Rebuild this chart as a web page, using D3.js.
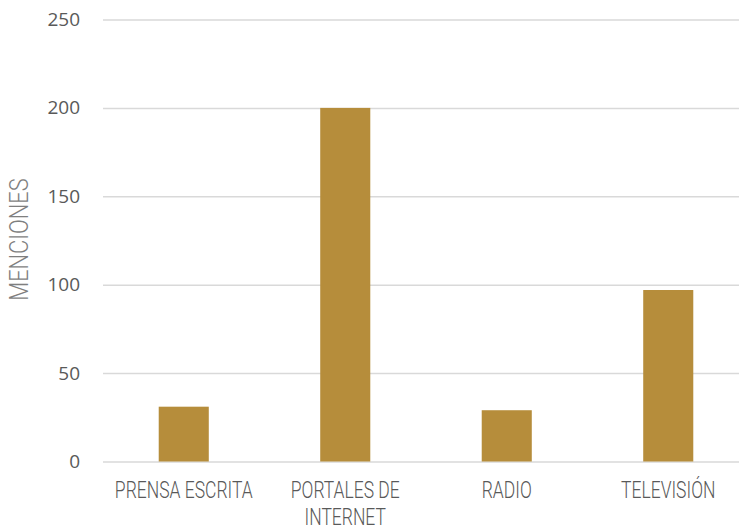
<!DOCTYPE html>
<html>
<head>
<meta charset="utf-8">
<script src="https://cdn.jsdelivr.net/npm/d3@7"></script>
<style>
  html, body { margin: 0; padding: 0; background: #fff; }
  svg { display: block; }
</style>
</head>
<body>
<svg id="chart" width="739" height="527"></svg>
<script>
// Mentions per media type
const categories = ["PRENSA ESCRITA", "PORTALES DE INTERNET", "RADIO", "TELEVISIÓN"];
const categoryLines = [["PRENSA ESCRITA"], ["PORTALES DE", "INTERNET"], ["RADIO"], ["TELEVISIÓN"]];
const mentions = [31, 200, 29, 97];
const yTicks = [0, 50, 100, 150, 200, 250];
const yTitle = "MENCIONES";

const W = 739, H = 527;
const margin = { top: 19.5, right: -10, bottom: 65.5, left: 103 };

const svg = d3.select("#chart");

const x = d3.scaleBand()
  .domain(categories)
  .range([margin.left, W - margin.right])
  .paddingInner(0.69)
  .paddingOuter(0.345);

const y = d3.scaleLinear()
  .domain([0, 250])
  .range([H - margin.bottom, margin.top]);

// horizontal gridlines
const yAxis = d3.axisLeft(y)
  .tickValues(yTicks)
  .tickSize(-(W - margin.left))
  .tickPadding(23)
  .tickFormat(d3.format("d"));

const gy = svg.append("g")
  .attr("transform", `translate(${margin.left},0)`)
  .call(yAxis);
gy.select(".domain").remove();
gy.selectAll(".tick line")
  .attr("stroke", "#d9d9d9")
  .attr("stroke-width", 1.5);
gy.selectAll(".tick text")
  .attr("fill", "#595959")
  .style("font-family", "'Open Sans', sans-serif")
  .style("font-size", "19px");

// bars
svg.append("g")
  .selectAll("rect")
  .data(mentions)
  .join("rect")
  .attr("x", (d, i) => x(categories[i]))
  .attr("width", x.bandwidth())
  .attr("y", d => y(d))
  .attr("height", d => y(0) - y(d))
  .attr("fill", "#b68d3b");

// category labels (light, condensed)
const labels = svg.append("g")
  .selectAll("text")
  .data(categoryLines)
  .join("text")
  .attr("text-anchor", "middle")
  .attr("fill", "#595959")
  .style("font-family", "Roboto, sans-serif")
  .style("font-weight", "300")
  .style("font-size", "20px")
  .attr("transform", (d, i) => `translate(${x(categories[i]) + x.bandwidth() / 2},${y(0) + 36}) scale(0.875,1.2)`);

labels.selectAll("tspan")
  .data(d => d)
  .join("tspan")
  .attr("x", 0)
  .attr("dy", (d, j) => j === 0 ? 0 : "1.15em")
  .text(d => d);

// y-axis title
svg.append("text")
  .attr("transform", `translate(28,${(y(0) + y(250)) / 2 - 1}) rotate(-90) scale(1.04,1.2)`)
  .attr("text-anchor", "middle")
  .attr("fill", "#7f7f7f")
  .style("font-family", "Roboto, sans-serif")
  .style("font-weight", "300")
  .style("font-size", "21px")
  .text(yTitle);
</script>
</body>
</html>
